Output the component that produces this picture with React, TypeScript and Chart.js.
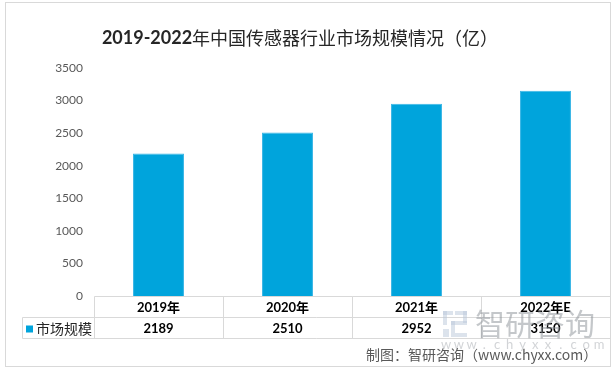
import React, { useEffect, useRef } from "react";
import { Chart, registerables } from "chart.js";

Chart.register(...registerables);

const categories = ["2019年", "2020年", "2021年", "2022年E"];
const marketSize = [2189, 2510, 2952, 3150];
const seriesLabel = "市场规模";
const yMax = 3500;
const yStep = 500;
const titleNum = "2019-2022";
const titleRest = "年中国传感器行业市场规模情况（亿）";
const footerText = "制图：智研咨询（www.chyxx.com）";
const watermarkText = "智研咨询";
const watermarkUrl = "w w w . c h y x x . c o m";

const BAR = "#00A4DC";
const GRID = "#D9D9D9";
const CJK = '"Noto Sans CJK SC", "Noto Sans", sans-serif';
const LAT = 'Lato, "Noto Sans CJK SC", sans-serif';

const decorPlugin = {
  id: "decor",
  beforeDraw(chart: any) {
    const ctx = chart.ctx;
    ctx.save();
    ctx.fillStyle = "#fff";
    ctx.fillRect(0, 0, chart.width, chart.height);
    ctx.strokeStyle = GRID;
    ctx.lineWidth = 1;
    ctx.strokeRect(5.5, 2.5, 605, 364);
    ctx.restore();
  },
  afterDraw(chart: any) {
    const ctx = chart.ctx;
    const xs = chart.scales.x;
    const area = chart.chartArea;
    const n = categories.length;
    const cw = (area.right - area.left) / n;
    const top = Math.round(area.bottom) + 0.5;
    const mid = top + 21;
    const bot = top + 42;
    ctx.save();
    // title
    ctx.textBaseline = "middle";
    ctx.fillStyle = "#262626";
    ctx.font = "bold 18px " + LAT;
    const w1 = ctx.measureText(titleNum).width;
    ctx.font = "18px " + CJK;
    const w2 = ctx.measureText(titleRest).width;
    const tx = 300 - (w1 + w2) / 2;
    ctx.textAlign = "left";
    ctx.font = "bold 18px " + LAT;
    ctx.fillText(titleNum, tx, 38);
    ctx.font = "18px " + CJK;
    ctx.fillText(titleRest, tx + w1, 38);

    // table lines
    ctx.strokeStyle = GRID;
    ctx.lineWidth = 1;
    ctx.beginPath();
    ctx.moveTo(Math.round(area.left) + 0.5, top);
    ctx.lineTo(area.right, top);
    ctx.moveTo(22.5, mid);
    ctx.lineTo(area.right, mid);
    ctx.moveTo(22.5, bot);
    ctx.lineTo(area.right, bot);
    ctx.moveTo(22.5, mid);
    ctx.lineTo(22.5, bot);
    for (let i = 0; i <= n; i++) {
      const x = Math.round(area.left + i * cw) + 0.5;
      ctx.moveTo(x, top);
      ctx.lineTo(x, bot);
    }
    ctx.stroke();

    // table text
    ctx.fillStyle = "#000";
    ctx.textAlign = "center";
    ctx.font = "bold 13px " + LAT;
    categories.forEach((c, i) => {
      const x = xs.getPixelForValue(i);
      ctx.fillText(c, x, top + 11);
      ctx.fillText(String(marketSize[i]), x, mid + 11);
    });
    // legend
    ctx.fillStyle = BAR;
    ctx.fillRect(26, mid + 8, 7, 7);
    ctx.fillStyle = "#262626";
    ctx.textAlign = "left";
    ctx.font = "14px " + CJK;
    ctx.fillText(seriesLabel, 36, mid + 11);

    // watermark
    ctx.globalAlpha = 0.5;
    ctx.fillStyle = "#B9C7D9";
    ctx.fillRect(443, 311, 10, 4);
    ctx.fillRect(443, 311, 4, 14);
    ctx.fillRect(455, 311, 12, 4);
    ctx.fillRect(463, 311, 4, 12);
    ctx.fillRect(451, 321, 16, 4);
    ctx.fillRect(451, 321, 4, 16);
    ctx.fillRect(443, 329, 6, 8);
    ctx.fillRect(455, 333, 12, 4);
    ctx.fillStyle = "#8A8F96";
    ctx.font = "30px " + CJK;
    ctx.textBaseline = "middle";
    ctx.fillText(watermarkText, 475, 324);
    ctx.font = "13px " + LAT;
    ctx.fillStyle = "#A6AAB0";
    const letters = watermarkUrl.replace(/ /g, "").split("");
    const step = 153 / (letters.length - 1);
    ctx.textAlign = "center";
    letters.forEach((ch, i) => ctx.fillText(ch, 446 + i * step, 345));
    ctx.globalAlpha = 1;

    // footer
    ctx.textAlign = "left";
    ctx.fillStyle = "#595959";
    ctx.font = "14px " + CJK;
    ctx.fillText(footerText, 366, 355);
    ctx.restore();
  },
};

export default function App() {
  const ref = useRef<HTMLCanvasElement>(null);
  useEffect(() => {
    document.body.style.margin = "0";
    const chart = new Chart(ref.current!, {
      type: "bar",
      data: {
        labels: categories,
        datasets: [
          {
            label: seriesLabel,
            data: marketSize,
            backgroundColor: BAR,
            borderColor: "#3AB6E6",
            borderWidth: 1,
            categoryPercentage: 1,
            barPercentage: 0.395,
          },
        ],
      },
      options: {
        animation: false,
        responsive: false,
        maintainAspectRatio: false,
        layout: { padding: { top: 68, bottom: 75, left: 0, right: 4 } },
        plugins: {
          legend: { display: false },
          title: { display: false },
          tooltip: { enabled: false },
        },
        scales: {
          x: { display: false },
          y: {
            min: 0,
            max: yMax,
            ticks: {
              stepSize: yStep,
              padding: 11,
              color: "#595959",
              font: { family: "Lato", size: 12 },
              callback: (v: any) => String(v),
            },
            grid: { display: false, drawTicks: false },
            border: { display: false },
            afterFit: (s: any) => {
              s.width = 94;
            },
          },
        },
      },
      plugins: [decorPlugin],
    });
    return () => chart.destroy();
  }, []);
  return <canvas ref={ref} width={614} height={371} style={{ display: "block" }} />;
}
